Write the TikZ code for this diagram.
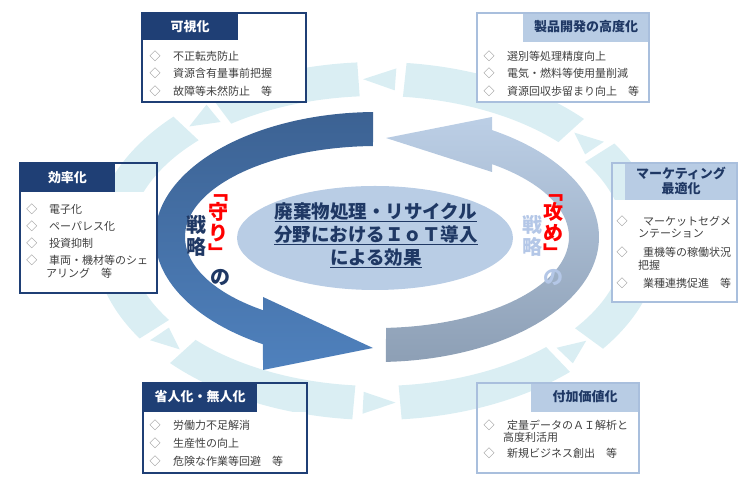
\documentclass[tikz,border=0pt]{standalone}
\usepackage{fontspec}
\setmainfont{Noto Sans CJK JP}
\usetikzlibrary{calc}
\definecolor{ringc}{HTML}{DAEEF3}
\definecolor{navy}{HTML}{1F3864}
\definecolor{hdrdark}{HTML}{1F3F75}
\definecolor{hdrlight}{HTML}{B8CCE4}
\definecolor{brdlight}{HTML}{A9BFDD}
\definecolor{txtgray}{HTML}{404040}
\definecolor{dmdgray}{HTML}{808080}
\definecolor{ellc}{HTML}{B9CDE5}
\definecolor{dkA}{HTML}{3C6293}
\definecolor{dkB}{HTML}{4F81BD}
\definecolor{ltA}{HTML}{BCCFE6}
\definecolor{ltB}{HTML}{8D9FB5}
\definecolor{lblue}{HTML}{B4C7E7}
\definecolor{redc}{HTML}{FF0000}
\newcommand\ulx[1]{\setbox0=\hbox{#1}\leavevmode\rlap{\color{navy}\rule[-3.5pt]{\wd0}{1.1pt}}\box0}
\tikzset{
 itemtxt/.style={anchor=west, inner sep=0pt, font=\fontsize{11}{13}\selectfont, text=txtgray},
 dmd/.style={inner sep=0pt, font=\fontsize{11}{13}\selectfont, text=dmdgray},
 hdrW/.style={inner sep=0pt, font=\fontsize{13}{15}\selectfont\bfseries, text=white, align=center},
 hdrN/.style={inner sep=0pt, font=\fontsize{13}{15}\selectfont\bfseries, text=navy, align=center},
 darkbox/.style={draw=hdrdark, line width=1.3pt},
 lightbox/.style={draw=brdlight, line width=1.5pt},
 vlbl/.style={inner sep=0pt, font=\fontsize{20}{20.5}\selectfont\bfseries, align=center},
 vlbl2/.style={inner sep=0pt, font=\fontsize{20}{22.5}\selectfont\bfseries, align=center},
}
\begin{document}
\begin{tikzpicture}[x=1pt,y=1pt]
\useasboundingbox (0,0) rectangle (748,484);
% outer segmented ring: bands with small triangles in the gaps
\coordinate (RC) at (377,243);
\foreach \ta/\tb in {1/33,43/84,94/126,136/171,181/213,223/265,275/313,323/351}{
  \fill[ringc] ($(RC)+(\ta:283 and 179)$) arc[start angle=\ta, end angle=\tb, x radius=283, y radius=179]
    -- ($(RC)+(\tb:248 and 145)$)
    arc[start angle=\tb, end angle=\ta, x radius=248, y radius=145] -- cycle;
}
\foreach \t in {0,42,93,135,180,222,274,322}{
  \pgfmathsetmacro\tbase{\t-7}
  \fill[ringc] ($(RC)+(\tbase:277 and 173)$) -- ($(RC)+(\t:265.5 and 162)$) -- ($(RC)+(\tbase:254 and 151)$) -- cycle;
}
% inner arrows
\coordinate (AC) at (377,247);
\shade[top color=dkA, bottom color=dkB]
  ($(AC)+(91:222 and 125)$) arc[start angle=91, end angle=239.1, x radius=222, y radius=125]
  -- (263,114) -- (373,136) -- (263,187)
  -- ($(AC)+(233.6:192 and 91)$) arc[start angle=233.6, end angle=91.2, x radius=192, y radius=91] -- cycle;
\shade[top color=ltA, bottom color=ltB]
  ($(AC)+(272.3:222 and 125)$) arc[start angle=272.3, end angle=418.8, x radius=222, y radius=125]
  -- (492,367) -- (386,346) -- (492,312)
  -- ($(AC)+(413.2:192 and 91)$) arc[start angle=413.2, end angle=272.7, x radius=192, y radius=91] -- cycle;
% centre ellipse
\fill[ellc] (375,246) ellipse [x radius=138, y radius=52];
\node[font=\fontsize{18.5}{23}\selectfont\bfseries, text=navy, align=center, inner sep=0pt] (title) at (376,249)
  {\ulx{廃棄物処理・リサイクル}\\\ulx{分野におけるＩｏＴ導入}\\\ulx{による効果}};
% side labels
\node[vlbl, text=redc] (mamori) at (218,256.25) {﹁\\守\\り\\﹂};
\node[vlbl, text=navy] (mno) at (220,206) {の};
\node[vlbl2, text=navy] (msen) at (196,248) {戦\\略};
\node[vlbl, text=redc] (seme) at (553,256.25) {﹁\\攻\\め\\﹂};
\node[vlbl, text=lblue] (sno) at (553,206) {の};
\node[vlbl2, text=lblue] (ssen) at (532,248) {戦\\略};
% box 1
\fill[white] (142,444) rectangle (306,382);
\fill[hdrdark] (142,471) rectangle (238,444);
\draw[darkbox] (142,471) rectangle (306,382);
\node[hdrW] (h1) at (190,457.5) {可視化};
\node[dmd] (d11) at (155,428) {◇}; \node[itemtxt] (t11) at (173,428) {不正転売防止};
\node[dmd] (d12) at (155,410.5) {◇}; \node[itemtxt] (t12) at (173,410.5) {資源含有量事前把握};
\node[dmd] (d13) at (155,393) {◇}; \node[itemtxt] (t13) at (173,393) {故障等未然防止　等};
% box 2
\fill[white] (477,442) rectangle (649,382);
\fill[hdrlight] (523,471) rectangle (649,442);
\draw[lightbox] (477,471) rectangle (649,382);
\node[hdrN] (h2) at (586,457) {製品開発の高度化};
\node[dmd] (d21) at (489,428) {◇}; \node[itemtxt] (t21) at (507,428) {選別等処理精度向上};
\node[dmd] (d22) at (489,410.5) {◇}; \node[itemtxt] (t22) at (507,410.5) {電気・燃料等使用量削減};
\node[dmd] (d23) at (489,393) {◇}; \node[itemtxt] (t23) at (507,393) {資源回収歩留まり向上　等};
% box 3
\fill[white] (20,292) rectangle (157,191);
\fill[hdrdark] (20,321) rectangle (115,292);
\draw[darkbox] (20,321) rectangle (157,191);
\node[hdrW] (h3) at (67.5,306.5) {効率化};
\node[dmd] (d31) at (32,275) {◇}; \node[itemtxt] (t31) at (49,275) {電子化};
\node[dmd] (d32) at (32,258) {◇}; \node[itemtxt] (t32) at (49,258) {ペーパレス化};
\node[dmd] (d33) at (32,241) {◇}; \node[itemtxt] (t33) at (49,241) {投資抑制};
\node[dmd] (d34) at (32,224) {◇}; \node[itemtxt] (t34) at (49,224) {車両・機材等のシェ};
\node[itemtxt] (t35) at (46,211) {アリング　等};
% box 4
\fill[white] (612,284) rectangle (737,182);
\fill[hdrlight] (625,321) rectangle (737,284);
\draw[lightbox] (612,321) rectangle (737,182);
\node[hdrN] (h4) at (681,303) {マーケティング\\最適化};
\node[dmd] (d41) at (622,263) {◇}; \node[itemtxt] (t41) at (643,263) {マーケットセグメ};
\node[itemtxt] (t42) at (638,250) {ンテーション};
\node[dmd] (d43) at (622,232) {◇}; \node[itemtxt] (t43) at (643,232) {重機等の稼働状況};
\node[itemtxt] (t44) at (638,219) {把握};
\node[dmd] (d45) at (622,201) {◇}; \node[itemtxt] (t45) at (643,201) {業種連携促進　等};
% box 5
\fill[white] (143,72) rectangle (307,11);
\fill[hdrdark] (143,101) rectangle (257,72);
\draw[darkbox] (143,101) rectangle (307,11);
\node[hdrW] (h5) at (200,87) {省人化・無人化};
\node[dmd] (d51) at (155,59) {◇}; \node[itemtxt] (t51) at (173,59) {労働力不足解消};
\node[dmd] (d52) at (155,41) {◇}; \node[itemtxt] (t52) at (173,41) {生産性の向上};
\node[dmd] (d53) at (155,23) {◇}; \node[itemtxt] (t53) at (173,23) {危険な作業等回避　等};
% box 6
\fill[white] (477,72) rectangle (639,11);
\fill[hdrlight] (531,101) rectangle (639,72);
\draw[lightbox] (477,101) rectangle (639,11);
\node[hdrN] (h6) at (585,87) {付加価値化};
\node[dmd] (d61) at (489,59) {◇}; \node[itemtxt] (t61) at (507,59) {定量データのＡＩ解析と};
\node[itemtxt] (t62) at (503,47) {高度利活用};
\node[dmd] (d63) at (489,31) {◇}; \node[itemtxt] (t63) at (507,31) {新規ビジネス創出　等};
\end{tikzpicture}
\end{document}
